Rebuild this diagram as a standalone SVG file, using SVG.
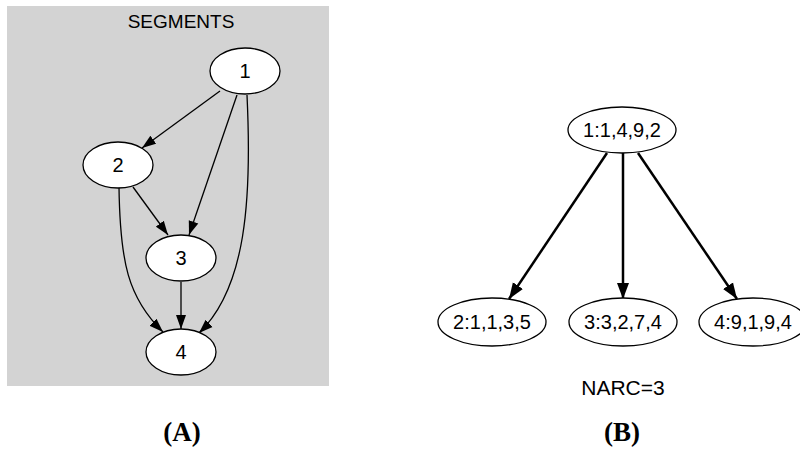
<svg xmlns="http://www.w3.org/2000/svg" width="800" height="451" viewBox="0 0 800 451">
<defs>
<style>
.node ellipse{fill:#fff;stroke:#000;stroke-width:1.3}
.lbl{font-family:"Liberation Sans",Arial,sans-serif;font-size:20px;text-anchor:middle;fill:#000}
.edge{fill:none;stroke:#000;stroke-width:1.3}
.edge2{fill:none;stroke:#000;stroke-width:2.5}
.cap{font-family:"Liberation Serif","Times New Roman",serif;font-weight:bold;font-size:27px;text-anchor:middle;fill:#000}
</style>
<marker id="ah" markerUnits="userSpaceOnUse" markerWidth="15" markerHeight="11" viewBox="0 0 15 11" refX="14" refY="5.5" orient="auto">
<path d="M0,0.5 L14,5.5 L0,10.5 Z" fill="#000"/>
</marker>
<marker id="ah2" markerUnits="userSpaceOnUse" markerWidth="17" markerHeight="13" viewBox="0 0 17 13" refX="16" refY="6.5" orient="auto">
<path d="M0,0.5 L16,6.5 L0,12.5 Z" fill="#000"/>
</marker>
</defs>
<rect x="7" y="6" width="322" height="380" fill="#d3d3d3"/>
<text class="lbl" x="181" y="28" style="font-size:19px">SEGMENTS</text>
<g id="edges">
<path class="edge" d="M220,91 L142,148" marker-end="url(#ah)"/>
<path class="edge" d="M237,95 L189,235" marker-end="url(#ah)"/>
<path class="edge" d="M247,95 C252,200 246,288 199,333" marker-end="url(#ah)"/>
<path class="edge" d="M133,187 L168,235" marker-end="url(#ah)"/>
<path class="edge" d="M119,187 C120,262 128,298 163,332" marker-end="url(#ah)"/>
<path class="edge" d="M181,282 L181,329" marker-end="url(#ah)"/>
<path class="edge2" d="M607,153 L509,299" marker-end="url(#ah2)"/>
<path class="edge2" d="M623,153 L623,299" marker-end="url(#ah2)"/>
<path class="edge2" d="M638,153 L737,299" marker-end="url(#ah2)"/>
</g>
<g id="n1" class="node"><ellipse cx="245" cy="71" rx="35" ry="23"/><text class="lbl" x="245" y="78">1</text></g>
<g id="n2" class="node"><ellipse cx="118" cy="165" rx="35" ry="23"/><text class="lbl" x="118" y="172">2</text></g>
<g id="n3" class="node"><ellipse cx="181" cy="258" rx="35" ry="23"/><text class="lbl" x="181" y="265">3</text></g>
<g id="n4" class="node"><ellipse cx="181" cy="352" rx="35" ry="23"/><text class="lbl" x="181" y="359">4</text></g>
<g id="b1" class="node"><ellipse cx="622" cy="130" rx="54" ry="23"/><text class="lbl" x="622" y="137">1:1,4,9,2</text></g>
<g id="b2" class="node"><ellipse cx="492" cy="322" rx="54" ry="24"/><text class="lbl" x="492" y="329">2:1,1,3,5</text></g>
<g id="b3" class="node"><ellipse cx="623" cy="322" rx="54" ry="24"/><text class="lbl" x="623" y="329">3:3,2,7,4</text></g>
<g id="b4" class="node"><ellipse cx="753" cy="322" rx="54" ry="24"/><text class="lbl" x="753" y="329">4:9,1,9,4</text></g>
<text class="lbl" x="623" y="395" style="font-size:21px">NARC=3</text>
<text class="cap" x="182" y="441">(A)</text>
<text class="cap" x="622" y="441">(B)</text>
</svg>
